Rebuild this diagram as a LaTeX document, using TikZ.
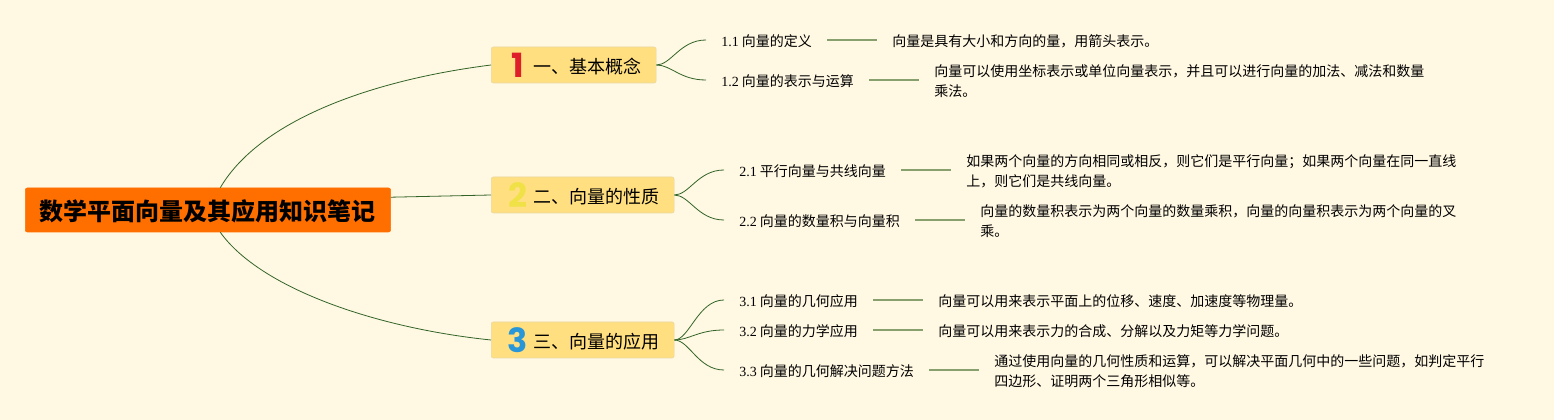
\documentclass[tikz,border=0pt]{standalone}
\usepackage{fontspec}
\setmainfont{Noto Sans CJK SC}
\newfontfamily\numfont{Liberation Serif}
\newfontfamily\iconfont{Poppins}
\newcommand\tallstrut{\rule{0pt}{10.8pt}}
\definecolor{paper}{RGB}{255,248,227}
\definecolor{rootfill}{RGB}{255,111,0}
\definecolor{branchfill}{RGB}{255,223,128}
\definecolor{branchline}{RGB}{234,216,160}
\definecolor{curvegreen}{RGB}{50,100,40}
\definecolor{leafgreen}{RGB}{135,160,110}
\definecolor{iconred}{RGB}{222,30,40}
\definecolor{iconyellow}{RGB}{240,225,70}
\definecolor{iconblue}{RGB}{40,150,215}
\tikzset{
  rootbox/.style={anchor=west,fill=rootfill,draw=rootfill,rounded corners=1.5pt,minimum height=33pt,inner xsep=11pt,font=\fontsize{18}{22}\selectfont\bfseries},
  branchbox/.style={anchor=west,fill=branchfill,draw=branchline,rounded corners=1.5pt,minimum height=27pt,inner xsep=11pt,font=\fontsize{13.5}{16}\selectfont},
  numicon/.style={inner sep=0pt,font=\fontsize{25}{25}\selectfont\iconfont\bfseries},
  childtext/.style={anchor=west,inner xsep=11.25pt,inner ysep=1pt,font=\fontsize{10.5}{15}\selectfont},
  leaftext/.style={anchor=west,inner xsep=11.25pt,inner ysep=1pt,align=left,font=\fontsize{10.5}{15}\selectfont},
  curvelink/.style={draw=curvegreen,line width=0.6pt},
  leaflink/.style={draw=leafgreen,line width=0.9pt}
}
\begin{document}
\begin{tikzpicture}[x=0.75pt,y=0.75pt,yscale=-1,xscale=1]
  \useasboundingbox[fill=paper] (0,0) rectangle (1554,420);
  % root and branches
  \node[rootbox] (root) at (25,210) {\rule{0pt}{18pt}数学平面向量及其应用知识笔记};
  \node[branchbox] (basic) at (491,65) {\hspace*{20.6pt}\rule{0pt}{13.4pt}一、基本概念};
  \node[branchbox] (prop) at (491,195) {\hspace*{20.6pt}\rule{0pt}{13.4pt}二、向量的性质};
  \node[branchbox] (appl) at (491,340) {\hspace*{20.6pt}\rule{0pt}{13.4pt}三、向量的应用};
  \node[numicon,text=iconred] (numa) at (518,65) {1};
  \node[numicon,text=iconyellow] (numb) at (518,195) {2};
  \node[numicon,text=iconblue] (numc) at (518,340) {3};
  % children
  \node[childtext] (ca) at (706,40) {\tallstrut{\numfont 1.1} 向量的定义};
  \node[childtext] (cb) at (706,80) {\tallstrut{\numfont 1.2} 向量的表示与运算};
  \node[childtext] (cc) at (724,170) {\tallstrut{\numfont 2.1} 平行向量与共线向量};
  \node[childtext] (cd) at (724,220) {\tallstrut{\numfont 2.2} 向量的数量积与向量积};
  \node[childtext] (ce) at (724,300) {\tallstrut{\numfont 3.1} 向量的几何应用};
  \node[childtext] (cf) at (724,330) {\tallstrut{\numfont 3.2} 向量的力学应用};
  \node[childtext] (cg) at (724,370) {\tallstrut{\numfont 3.3} 向量的几何解决问题方法};
  % leaves
  \node[leaftext] (la) at (877,40) {\tallstrut 向量是具有大小和方向的量，用箭头表示。};
  \node[leaftext] (lb) at (919,80) {\tallstrut 向量可以使用坐标表示或单位向量表示，并且可以进行向量的加法、减法和数量\\乘法。};
  \node[leaftext] (lc) at (951,170) {\tallstrut 如果两个向量的方向相同或相反，则它们是平行向量；如果两个向量在同一直线\\上，则它们是共线向量。};
  \node[leaftext] (ld) at (965,220) {\tallstrut 向量的数量积表示为两个向量的数量乘积，向量的向量积表示为两个向量的叉\\乘。};
  \node[leaftext] (le) at (923,300) {\tallstrut 向量可以用来表示平面上的位移、速度、加速度等物理量。};
  \node[leaftext] (lf) at (923,330) {\tallstrut 向量可以用来表示力的合成、分解以及力矩等力学问题。};
  \node[leaftext] (lg) at (979,370) {\tallstrut 通过使用向量的几何性质和运算，可以解决平面几何中的一些问题，如判定平行\\四边形、证明两个三角形相似等。};
  % root links
  \draw[curvelink] (root.61.4) .. controls (260,120) and (372,80) .. (basic.west);
  \draw[curvelink] (root.4.4) -- (prop.west);
  \draw[curvelink] (root.-61.4) .. controls (260,288) and (375,328) .. (appl.west);
  % branch links
  \foreach \from/\to in {basic/ca,basic/cb,prop/cc,prop/cd,appl/ce,appl/cf,appl/cg}
    \draw[curvelink] (\from.east) .. controls +(15,0) and +(-26,0) .. (\to.west);
  % leaf links
  \foreach \from/\to in {ca/la,cb/lb,cc/lc,cd/ld,ce/le,cf/lf,cg/lg}
    \draw[leaflink] (\from.east) -- (\to.west);
\end{tikzpicture}
\end{document}
